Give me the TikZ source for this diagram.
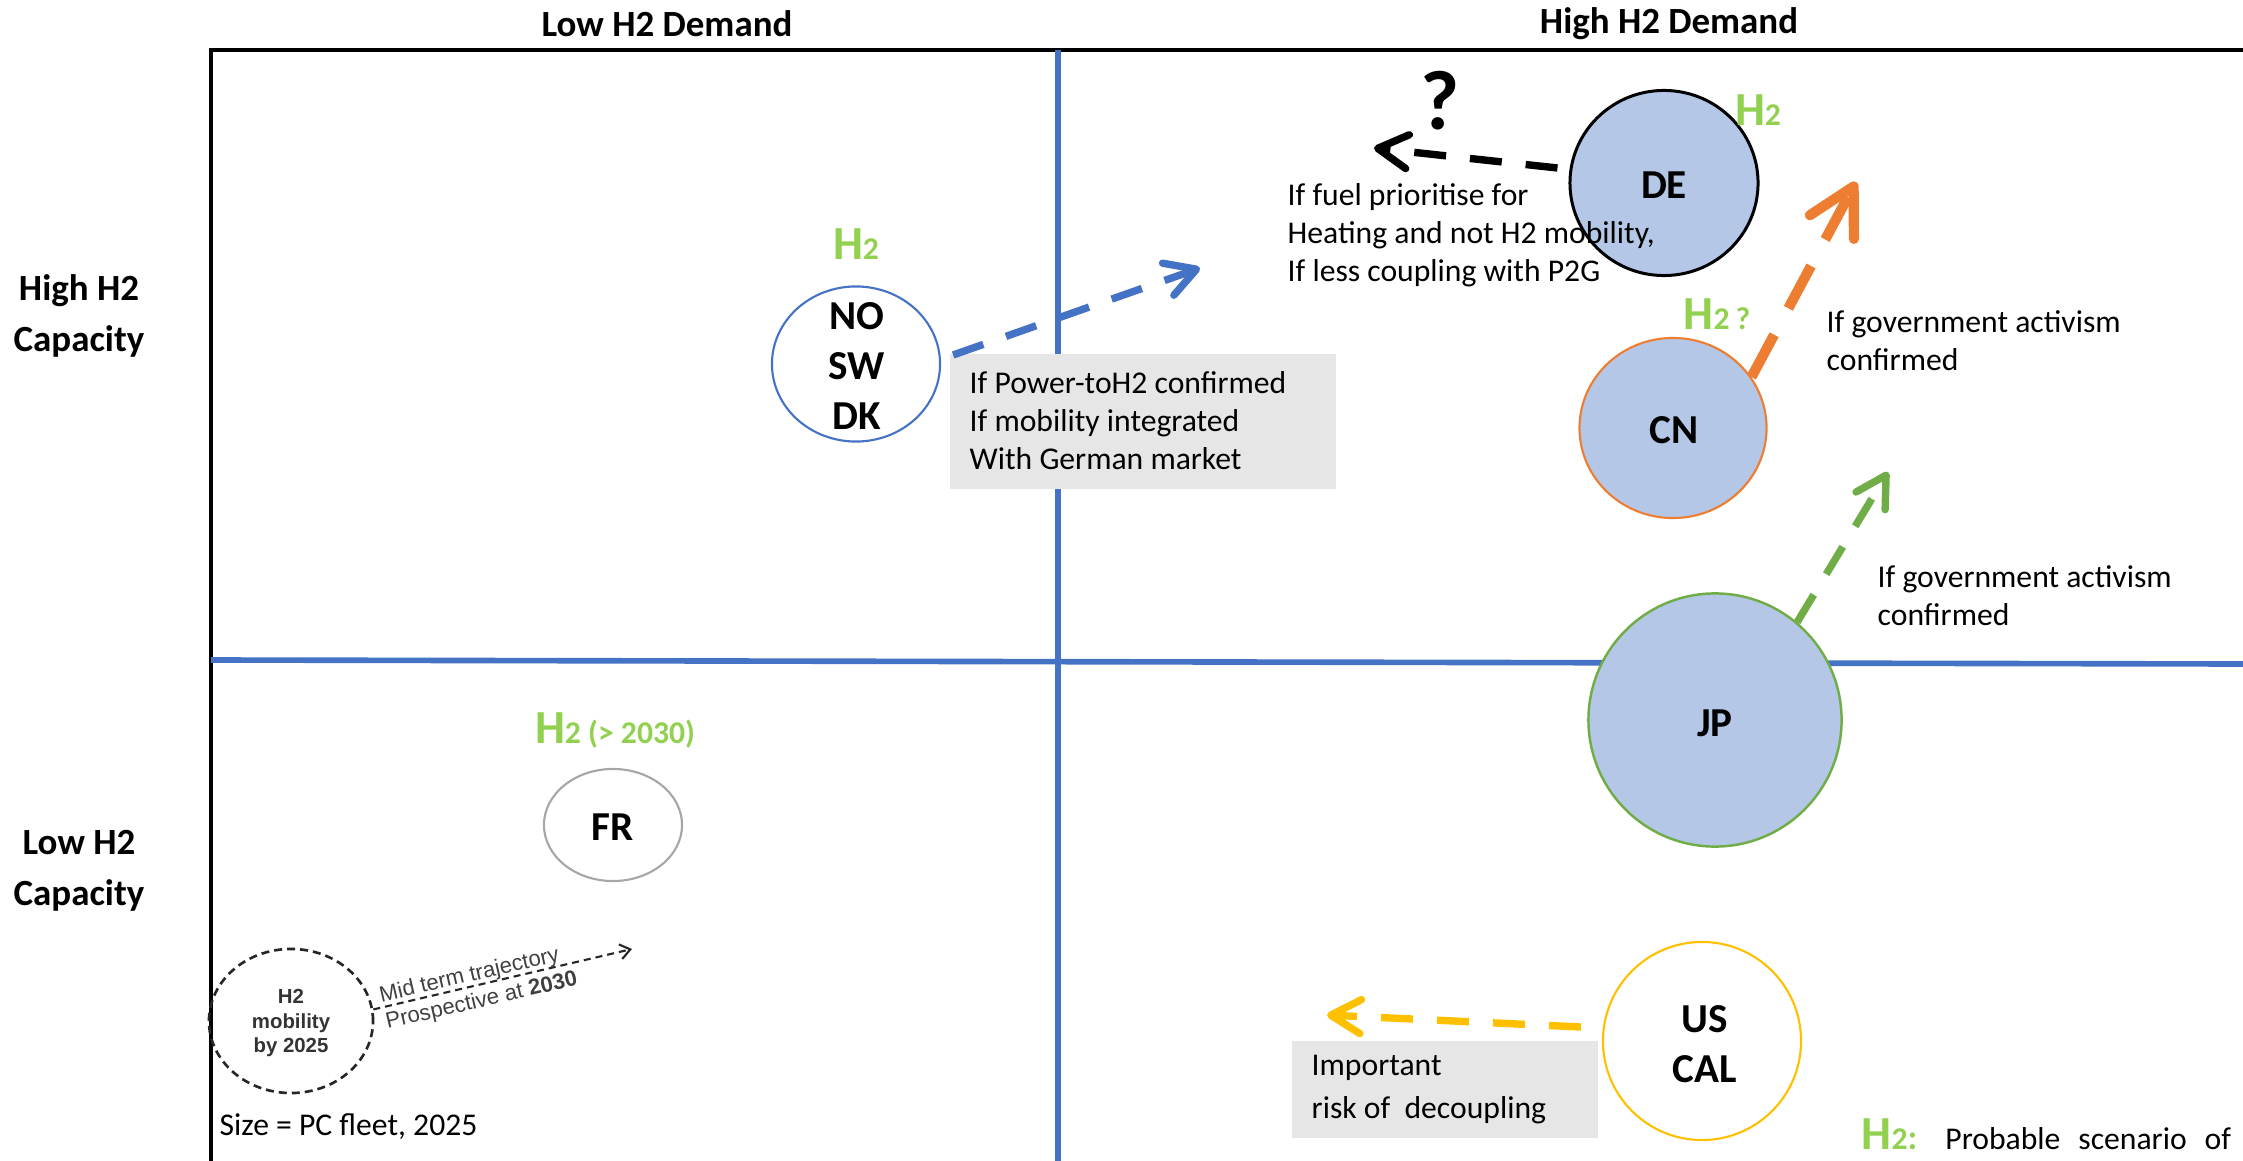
\documentclass[tikz,border=0pt]{standalone}
\usepackage{fontspec}
\setmainfont{Carlito}
\newfontfamily\arialf{Liberation Sans}
\usetikzlibrary{arrows.meta,shapes.geometric}
\definecolor{myblue}{HTML}{4472C4}
\definecolor{myorange}{HTML}{ED7D31}
\definecolor{mygreen}{HTML}{70AD47}
\definecolor{htwogreen}{HTML}{92D050}
\definecolor{myyellow}{HTML}{FFC000}
\definecolor{fillblue}{HTML}{B4C7E7}
\definecolor{boxgray}{HTML}{E7E6E6}
\definecolor{circgray}{HTML}{A6A6A6}
\newcommand\hhtwo{{\fontsize{13.5}{14}\selectfont H}{\fontsize{9}{10}\selectfont 2}}
\begin{document}
\begin{tikzpicture}[x=0.01cm,y=-0.01cm,
  hdr/.style={font=\fontsize{10.5}{14.5}\selectfont\bfseries, align=center, inner sep=0pt},
  country/.style={ellipse, draw, line width=0.6pt, inner sep=0pt},
  ctext/.style={font=\fontsize{11.7}{14.3}\selectfont\bfseries, align=center, inner sep=0pt},
  body/.style={font=\fontsize{9}{10.8}\selectfont, align=left, inner sep=0pt},
  graybox/.style={fill=boxgray, inner sep=0pt, anchor=north west},
  htwo/.style={text=htwogreen, font=\bfseries, inner sep=0pt, anchor=base},
  darr/.style={line width=2.1pt, dash pattern=on 0.32cm off 0.24cm,
    -{Straight Barb[length=0.3cm,width=0.34cm,round]}},
  oarr/.style={myorange, line width=2.9pt, dash pattern=on 0.48cm off 0.30cm,
    -{Straight Barb[length=0.46cm,width=0.5cm,round]}},
  marr/.style={black!85, line width=0.6pt, dash pattern=on 0.07cm off 0.05cm,
    -{Straight Barb[length=0.1cm,width=0.15cm]}},
  mtext/.style={font=\arialf\fontsize{6.3}{7.8}\selectfont, text=black!75, rotate=13, align=left, inner sep=0pt}
]
\useasboundingbox (0,0) rectangle (2243,1161);

% frame and quadrant lines
\draw[line width=1pt] (211,1161) -- (211,50) -- (2243,50);
\draw[myblue, line width=1.6pt] (1058,50) -- (1058,1161);
\draw[myblue, line width=1.6pt] (211,660) -- (2243,664);

% axis labels
\node[hdr] (lowD) at (667,24) {Low H2 Demand};
\node[hdr] (highD) at (1669,24) {High H2 Demand};
\node[hdr] (highC) at (79,316) {High H2\\Capacity};
\node[hdr] (lowC) at (79,871) {Low H2\\Capacity};

% gray boxes
\node[graybox, minimum width=3.86cm, minimum height=1.35cm] (nbox) at (949,353) {};
\node[graybox, minimum width=3.06cm, minimum height=0.97cm] (ubox) at (1291,1040) {};

% circles
\node[country, draw=black, fill=fillblue, line width=0.85pt, minimum width=1.88cm, minimum height=1.85cm] (de) at (1664,183) {};
\node[country, draw=myorange, fill=fillblue, minimum width=1.87cm, minimum height=1.80cm] (cn) at (1673,428) {};
\node[country, draw=mygreen, fill=fillblue, line width=0.7pt, minimum width=2.53cm, minimum height=2.53cm] (jp) at (1715,720) {};
\node[country, draw=myblue, fill=white, minimum width=1.68cm, minimum height=1.55cm] (nsd) at (856,364) {};
\node[country, draw=circgray, minimum width=1.38cm, minimum height=1.12cm] (fr) at (613,825) {};
\node[country, draw=myyellow, fill=white, minimum width=1.98cm, minimum height=1.98cm] (us) at (1702,1041) {};
\node[ellipse, draw=black!85, line width=0.75pt, dash pattern=on 0.08cm off 0.05cm, inner sep=0pt, minimum width=1.64cm, minimum height=1.44cm] (mob) at (291,1021) {};

% circle texts
\node[ctext] (deT) at (1664,185) {DE};
\node[ctext] (cnT) at (1674,430) {CN};
\node[ctext] (jpT) at (1715,723) {JP};
\node[ctext] (nsdT) at (857,366) {NO\\SW\\DK};
\node[ctext] (frT) at (613,827) {FR};
\node[ctext] (usT) at (1705,1044) {US\\CAL};
\node[font=\arialf\bfseries\fontsize{5.8}{7.1}\selectfont, text=black!80, align=center, inner sep=0pt] (mobT) at (291,1023) {H2\\mobility\\by 2025};

% green H2 labels
\node[htwo] (deH) at (1758,126) {\hhtwo};
\node[htwo] (nsdH) at (856,260) {\hhtwo};
\node[htwo] (cnH) at (1717,330) {\hhtwo\,{\fontsize{9}{10}\selectfont ?}};
\node[htwo] (frH) at (615,743) {\hhtwo{\fontsize{9}{10}\selectfont\ (> 2030)}};

% arrows
\coordinate (deTip) at (1374,148);
\draw[darr, black] ([shift={(-11,-15)}]de.west) -- (deTip);
\coordinate (nsdTip) at (1200,268);
\draw[darr, myblue] ([shift={(12,-9)}]nsd.east) -- (nsdTip);
\coordinate (cnTip) at (1856,182);
\draw[oarr] (cn.33) -- (cnTip);
\coordinate (jpTip) at (1888,472);
\draw[darr, mygreen] (jp.50) -- (jpTip);
\coordinate (usTip) at (1327,1015);
\draw[darr, myyellow] ([shift={(-21,-14)}]us.west) -- (usTip);
\coordinate (mobTip) at (632,949);
\draw[marr] (mob.8) -- (mobTip);

% texts
\node[font=\fontsize{24}{24}\selectfont\bfseries, inner sep=0pt] (q) at (1440,101) {?};
\node[body, anchor=west] (deText) at (1287,235) {If fuel prioritise for\\Heating and not H2 mobility,\\If less coupling with P2G};
\node[body, anchor=west] (nsdText) at (969,421) {If Power-toH2 confirmed\\If mobility integrated\\With German market};
\node[body, anchor=west] (cnText) at (1826,341) {If government activism\\confirmed};
\node[body, anchor=west] (jpText) at (1877,596) {If government activism\\confirmed};
\node[body, font=\fontsize{9}{12.2}\selectfont, anchor=west] (usText) at (1311,1090) {Important\\risk of\ \ decoupling};
\node[mtext, anchor=north west] (mid) at (377,986) {Mid term trajectory\\Prospective at \textbf{2030}};
\node[body, anchor=base west] (size) at (219,1135) {Size = PC fleet, 2025};
\node[inner sep=0pt, anchor=base west] (legend) at (1861,1149) {{\color{htwogreen}\bfseries\hhtwo:}\hspace{0.28cm}{\fontsize{9}{10}\selectfont Probable\hspace{0.18cm}scenario\hspace{0.18cm}of}};
\end{tikzpicture}
\end{document}
